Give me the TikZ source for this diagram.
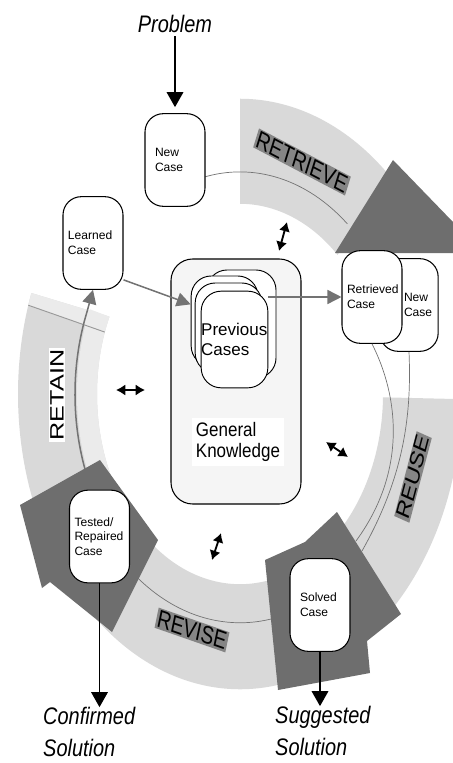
\documentclass[tikz,border=0pt]{standalone}
\usepackage{fontspec}
\setmainfont{Liberation Sans}
\usetikzlibrary{arrows.meta}

\tikzset{
  casebox/.style={draw, line width=0.9pt, fill=white, rounded corners=0.55cm, minimum width=1.8cm,
    minimum height=2.78cm, inner sep=1pt, text width=1.5cm, align=left, font=\fontsize{10.3}{12.5}\selectfont},
  stackbox/.style={draw, line width=0.8pt, fill=white, rounded corners=0.6cm, inner sep=0pt},
  band/.style={fill=black!15},
  dark/.style={fill=black!57},
  phase/.style={yscale=1.3, fill=black!48, inner sep=1pt, font=\fontsize{16.5}{18}\selectfont},
  outtext/.style={yscale=1.2, inner sep=0pt, align=left, font=\fontsize{17}{22.5}\selectfont\itshape},
  gline/.style={black!55, line width=0.6pt},
  garrow/.style={black!55, line width=1.3pt, -{Triangle[length=4.2mm,width=4.2mm]}},
  karrow/.style={black, line width=1pt, -{Triangle[length=4.5mm,width=5mm]}},
  dblarrow/.style={line width=1.6pt, {Latex[length=2.8mm,width=3.4mm]}-{Latex[length=2.8mm,width=3.4mm]}},
  ring/.style={shift={(240,394)}, yscale=-1.33},
}

\begin{document}
\begin{tikzpicture}[x=0.03cm, y=-0.03cm]
    \useasboundingbox (0,0) rectangle (453,763);

    % the four bands of the cycle
    \begin{scope}[ring]
        \fill[band] (90:222) arc[start angle=90, end angle=47, radius=222] -- (47:143) arc[start angle=47, end angle=90, radius=143] -- cycle;
        \fill[band] (-1:222) arc[start angle=-1, end angle=-58, radius=222] -- (-58:143) arc[start angle=-58, end angle=-1, radius=143] -- cycle;
        \fill[band] (-77:222) arc[start angle=-77, end angle=-130, radius=222] -- (-130:143) arc[start angle=-130, end angle=-77, radius=143] -- cycle;
        \fill[band] (206:222) arc[start angle=206, end angle=160, radius=222] -- (156:143) arc[start angle=156, end angle=206, radius=143] -- cycle;
        \fill[black!8] (206:163) arc[start angle=206, end angle=157, radius=163] -- (156:143) arc[start angle=156, end angle=206, radius=143] -- cycle;
        \fill[black!8] (160:222) -- (156:143) -- (161:143) -- (162.5:222) -- cycle;
        \draw[black!40, line width=0.8pt] (162.5:222) -- (161:143);
        % thin lines along the bands
        \draw[gline] (103:167) arc[start angle=103, end angle=50, radius=167];
        \draw[gline] (-70:172) arc[start angle=-70, end angle=-134, radius=172];
    \end{scope}

    % dark heads of the bands
    \fill[dark] (335,253) -- (393,160) -- (453,222) -- (453,253) -- cycle;
    \fill[dark] (265,560) -- (305,542) -- (337,512) -- (401,614) -- (367,641) -- (370,673) -- (278,690) -- cycle;
    \fill[dark] (20,505) -- (100,460) -- (158,540) -- (112,632) -- (50,582) -- (42,588) -- cycle;

    % phase labels
    \node[phase, rotate=-22] (retrieve) at (302,162) {RETRIEVE};
    \node[phase, rotate=71] (reuse) at (413,477) {REUSE};
    \node[phase, rotate=-15] (revise) at (192,630) {REVISE};
    \node[phase, fill=white, rotate=90] (retain) at (57,395) {RETAIN};

    % knowledge in the middle
    \node[draw, line width=0.9pt, fill=black!4, rounded corners=0.65cm, minimum width=3.9cm, minimum height=7.35cm] (gk) at (236,381.5) {};
    \node[stackbox, minimum width=2.07cm, minimum height=3.24cm] (prevA) at (241.5,324) {};
    \node[stackbox, minimum width=2.0cm, minimum height=2.7cm] (prevB) at (224.5,321) {};
    \node[stackbox, minimum width=2.0cm, minimum height=2.7cm] (prevC) at (228.5,328) {};
    \node[stackbox, minimum width=2.0cm, minimum height=2.9cm, text width=2.0cm, align=left,
          font=\fontsize{14.5}{17}\selectfont] (prev) at (234.5,339.5) {Previous\\Cases};
    \node[fill=white, align=left, yscale=1.15, font=\fontsize{14.5}{15.5}\selectfont] (gktext) at (238,442) {General\\Knowledge};

    % cases
    \node[casebox, text width=1.2cm] (newcase) at (175,160) {New\\Case};
    \node[casebox] (learned) at (93,243) {Learned\\Case};
    \node[casebox, minimum width=1.75cm] (newcase2) at (409,305) {\hspace*{0.6cm}New\\\hspace*{0.6cm}Case};
    \node[casebox] (retrieved) at (372,297) {Retrieved\\Case};
    \node[casebox] (tested) at (99.5,536.5) {Tested/\\Repaired\\Case};
    \node[casebox, text width=1.2cm] (solved) at (320,605) {Solved\\Case};

    % problem and solutions
    \node[outtext] (problem) at (175,24) {Problem};
    \node[outtext, anchor=west] (confirmed) at (43,732) {Confirmed\\Solution};
    \node[outtext, anchor=west] (suggested) at (275,731) {Suggested\\Solution};

    \draw[karrow, shorten <=0.1cm, shorten >=0.18cm] (problem) -- (newcase);
    \draw[karrow] (tested) -- (tested |- confirmed.north);
    \draw[karrow] (solved) -- (solved |- suggested.north);

    % flow of cases
    \draw[garrow] ([yshift=0.3cm]learned.south east) -- ([yshift=0.5cm]prevB.west);
    \draw[garrow] (prev.east |- retrieved.west) -- (retrieved.west);
    \draw[gline] (retrieved.south) .. controls (398,395) and (408,470) .. (356,541);
    \draw[gline] (newcase2.south) .. controls (412,420) and (402,480) .. (362,551);
    \begin{scope}[ring]
        \draw[garrow] (200:165) arc[start angle=200, end angle=158, radius=165] -- (learned.south);
    \end{scope}

    % links to the knowledge
    \coordinate (upA) at (287,222);   \coordinate (upB) at (279,251);
    \coordinate (leftA) at (116,390); \coordinate (leftB) at (145,390);
    \coordinate (rightA) at (326,442); \coordinate (rightB) at (348,457);
    \coordinate (downA) at (221,533); \coordinate (downB) at (212,560);
    \draw[dblarrow] (upA) -- (upB);
    \draw[dblarrow] (leftA) -- (leftB);
    \draw[dblarrow] (rightA) -- (rightB);
    \draw[dblarrow] (downA) -- (downB);
\end{tikzpicture}
\end{document}
